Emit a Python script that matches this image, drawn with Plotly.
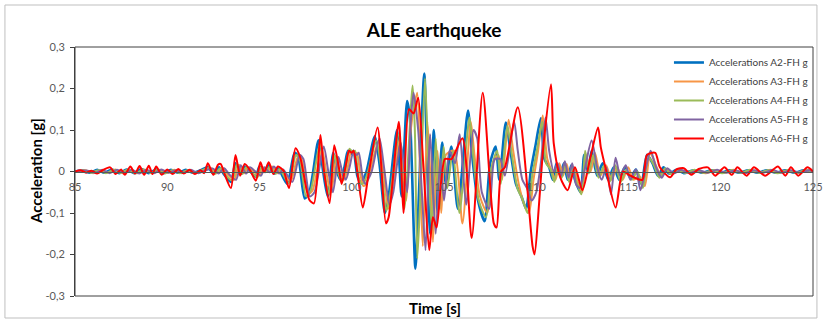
import plotly.graph_objects as go

# ---------------- data ----------------
series_names = ["Accelerations A2-FH g", "Accelerations A3-FH g", "Accelerations A4-FH g",
                "Accelerations A5-FH g", "Accelerations A6-FH g"]

t_a2 = [85.0, 85.4, 85.8, 86.2, 86.6, 87.0, 87.4, 87.8, 88.2, 88.6, 89.0, 89.4, 89.8, 90.2, 90.6, 91.0, 91.4, 91.8,
        92.2, 92.5, 92.8, 93.1, 93.45, 93.7, 94.0, 94.2, 94.5, 94.8, 95.0, 95.25, 95.5, 95.8, 96.0, 96.5, 96.9, 97.1, 97.45, 97.7,
        98.2, 98.45, 98.7, 99.0, 99.2, 99.4, 99.6, 99.8, 100.0, 100.1, 100.3, 100.45, 100.6, 100.8, 101.25, 101.5, 101.8, 102.0, 102.45, 102.7,
        103.0, 103.15, 103.45, 103.6, 103.93, 104.1, 104.25, 104.45, 104.65, 104.9, 105.1, 105.4, 105.75, 106.3, 106.5, 106.8, 107.2, 107.5, 107.8, 108.0,
        108.35, 108.6, 108.9, 109.2, 109.45, 109.7, 109.95, 110.25, 110.45, 110.7, 110.9, 111.1, 111.3, 111.5, 111.7, 111.9, 112.1, 112.4, 112.6, 112.8,
        113.0, 113.3, 113.6, 113.9, 114.2, 114.5, 114.8, 115.1, 115.4, 115.7, 116.0, 116.3, 116.6, 116.9, 117.2, 117.6, 118.0, 118.5, 119.0, 119.5,
        120.0, 120.5, 121.0, 121.5, 122.0, 122.5, 123.0, 123.5, 124.0, 124.5, 125.0]
v_a2 = [0.0, 0.003, -0.003, 0.004, -0.003, 0.005, -0.004, 0.005, -0.004, 0.006, -0.004, 0.005, -0.004, 0.004, -0.003, 0.004, -0.003, 0.003,
        0.01, -0.005, 0.01, -0.008, -0.025, 0.02, -0.005, 0.012, 0.0, -0.012, 0.012, 0.0, 0.015, -0.005, 0.008, -0.03, 0.045, 0.035, -0.065, -0.05,
        0.075, 0.0, -0.06, 0.045, 0.0, -0.02, 0.01, 0.05, 0.042, 0.05, -0.01, -0.025, -0.02, 0.0, 0.085, 0.02, -0.1, -0.06, 0.1, -0.06,
        0.17, 0.13, -0.234, -0.1, 0.236, 0.0, -0.15, 0.1, -0.1, 0.07, -0.03, 0.06, -0.09, 0.147, 0.05, -0.06, -0.12, 0.02, 0.06, -0.02,
        0.118, 0.05, -0.03, -0.06, -0.09, 0.0, 0.06, 0.128, 0.03, 0.01, -0.02, 0.02, -0.01, 0.02, -0.02, 0.015, -0.02, -0.05, 0.04, 0.0,
        0.05, -0.01, 0.02, -0.02, 0.01, -0.02, 0.01, -0.015, 0.005, -0.03, 0.04, 0.02, -0.01, 0.01, -0.005, 0.004, -0.004, 0.003, -0.003, 0.003,
        -0.003, 0.003, -0.003, 0.003, -0.003, 0.003, -0.003, 0.003, -0.003, 0.003, 0.0]

t_a3 = [85.0, 85.58, 85.98, 86.38, 86.78, 87.18, 87.58, 87.98, 88.38, 88.78, 89.18, 89.58, 89.98, 90.38, 90.78, 91.18, 91.58, 91.98,
        92.38, 92.68, 92.98, 93.28, 93.63, 93.88, 94.18, 94.38, 94.68, 94.98, 95.18, 95.43, 95.68, 95.98, 96.18, 96.68, 97.08, 97.28, 97.63, 97.88,
        98.38, 98.63, 98.88, 99.18, 99.38, 99.58, 99.78, 99.98, 100.18, 100.28, 100.48, 100.63, 100.78, 100.98, 101.43, 101.68, 101.98, 102.18, 102.6, 102.95,
        103.2, 103.35, 103.55, 103.7, 103.85, 104.1, 104.25, 104.4, 104.65, 104.85, 105.1, 105.55, 106.0, 106.45, 106.65, 106.95, 107.35, 107.65, 107.95, 108.15,
        108.5, 108.75, 109.05, 109.35, 109.6, 109.85, 110.1, 110.35, 110.6, 110.85, 111.05, 111.25, 111.45, 111.65, 111.85, 112.05, 112.25, 112.5, 112.7, 112.95,
        113.18, 113.48, 113.78, 114.08, 114.38, 114.68, 114.98, 115.28, 115.58, 115.88, 116.18, 116.48, 116.78, 117.08, 117.38, 117.78, 118.18, 118.68, 119.18, 119.68,
        120.18, 120.68, 121.18, 121.68, 122.18, 122.68, 123.18, 123.68, 124.18, 124.68, 125.0]
v_a3 = [0.0, 0.003, -0.004, 0.003, -0.003, 0.005, -0.004, 0.004, -0.004, 0.005, -0.005, 0.004, -0.003, 0.004, -0.004, 0.003, -0.003, 0.004,
        0.008, -0.004, 0.009, -0.008, -0.02, 0.016, -0.004, 0.01, 0.0, -0.01, 0.01, 0.0, 0.012, -0.004, 0.006, -0.025, 0.035, 0.03, -0.055, -0.045,
        0.055, -0.005, -0.05, 0.035, -0.005, -0.02, 0.01, 0.05, 0.04, 0.045, -0.01, -0.035, -0.03, 0.0, 0.07, 0.01, -0.09, -0.05, 0.08, -0.07,
        0.1, 0.15, 0.19, 0.0, -0.18, 0.12, 0.0, -0.17, 0.05, -0.1, 0.04, 0.05, -0.125, 0.12, 0.04, -0.06, -0.1, 0.02, 0.04, -0.02,
        0.125, 0.05, -0.03, -0.08, -0.1, -0.02, 0.05, 0.135, 0.03, 0.0, -0.02, 0.02, -0.01, 0.018, -0.02, 0.01, -0.025, -0.05, 0.04, 0.0,
        0.045, -0.01, 0.015, -0.02, 0.01, -0.02, 0.01, -0.02, -0.01, -0.035, 0.045, 0.015, -0.01, 0.006, -0.005, 0.004, -0.003, 0.003, -0.004, 0.003,
        -0.003, 0.004, -0.003, 0.003, -0.003, 0.004, -0.003, 0.003, -0.004, 0.003, 0.0]

t_a4 = [85.0, 85.48, 85.88, 86.28, 86.68, 87.08, 87.48, 87.88, 88.28, 88.68, 89.08, 89.48, 89.88, 90.28, 90.68, 91.08, 91.48, 91.88,
        92.28, 92.58, 92.88, 93.18, 93.53, 93.78, 94.08, 94.28, 94.58, 94.88, 95.08, 95.33, 95.58, 95.88, 96.08, 96.58, 96.98, 97.18, 97.53, 97.78,
        98.28, 98.53, 98.78, 99.08, 99.28, 99.48, 99.68, 99.88, 100.08, 100.18, 100.38, 100.53, 100.68, 100.88, 101.33, 101.58, 101.88, 102.08, 102.55, 102.85,
        103.3, 103.42, 103.55, 103.7, 103.97, 104.15, 104.35, 104.55, 104.75, 104.98, 105.18, 105.48, 105.83, 106.38, 106.58, 106.88, 107.28, 107.58, 107.88, 108.08,
        108.43, 108.68, 108.98, 109.28, 109.53, 109.78, 110.03, 110.33, 110.53, 110.78, 110.98, 111.18, 111.38, 111.58, 111.78, 111.98, 112.18, 112.45, 112.65, 112.85,
        113.08, 113.38, 113.68, 113.98, 114.28, 114.58, 114.88, 115.18, 115.48, 115.78, 116.08, 116.38, 116.68, 116.98, 117.28, 117.68, 118.08, 118.58, 119.08, 119.58,
        120.08, 120.58, 121.08, 121.58, 122.08, 122.58, 123.08, 123.58, 124.08, 124.58, 125.0]
v_a4 = [0.0, 0.002, -0.003, 0.003, -0.004, 0.004, -0.003, 0.005, -0.005, 0.005, -0.003, 0.004, -0.005, 0.003, -0.004, 0.003, -0.004, 0.003,
        0.008, -0.006, 0.008, -0.01, -0.022, 0.018, -0.006, 0.01, -0.002, -0.014, 0.01, -0.002, 0.013, -0.006, 0.006, -0.028, 0.04, 0.03, -0.06, -0.045,
        0.068, -0.005, -0.055, 0.04, -0.005, -0.025, 0.01, 0.055, 0.045, 0.05, -0.015, -0.03, -0.025, 0.0, 0.075, 0.015, -0.095, -0.055, 0.09, -0.09,
        0.207, 0.1, -0.21, -0.08, 0.225, 0.02, -0.14, 0.08, -0.09, 0.06, -0.04, 0.05, -0.1, 0.13, 0.04, -0.07, -0.11, 0.01, 0.05, -0.03,
        0.11, 0.04, -0.04, -0.07, -0.1, -0.01, 0.05, 0.12, 0.02, 0.005, -0.025, 0.015, -0.015, 0.015, -0.025, 0.01, -0.025, -0.055, 0.05, -0.005,
        0.04, -0.015, 0.015, -0.025, 0.015, -0.025, 0.005, -0.02, 0.0, -0.04, 0.035, 0.015, -0.015, 0.008, -0.006, 0.003, -0.003, 0.004, -0.003, 0.003,
        -0.004, 0.003, -0.003, 0.004, -0.003, 0.003, -0.004, 0.003, -0.003, 0.003, 0.0]

t_a5 = [85.0, 85.68, 86.08, 86.48, 86.88, 87.28, 87.68, 88.08, 88.48, 88.88, 89.28, 89.68, 90.08, 90.48, 90.88, 91.28, 91.68, 92.08,
        92.48, 92.78, 93.08, 93.38, 93.73, 93.98, 94.28, 94.48, 94.78, 95.08, 95.28, 95.53, 95.78, 96.08, 96.28, 96.78, 97.18, 97.38, 97.73, 97.98,
        98.48, 98.73, 98.98, 99.28, 99.48, 99.68, 99.88, 100.08, 100.28, 100.38, 100.58, 100.73, 100.88, 101.08, 101.5, 101.75, 102.05, 102.25, 102.65, 103.0,
        103.2, 103.35, 103.6, 103.8, 104.0, 104.25, 104.55, 104.8, 105.0, 105.3, 105.6, 105.85, 106.2, 106.6, 106.8, 107.05, 107.45, 107.75, 108.05, 108.3,
        108.8, 109.0, 109.25, 109.5, 109.75, 110.0, 110.25, 110.5, 110.7, 110.95, 111.15, 111.35, 111.55, 111.75, 111.95, 112.15, 112.35, 112.6, 113.0, 113.3,
        113.55, 113.8, 114.05, 114.3, 114.55, 114.85, 115.1, 115.4, 115.65, 115.95, 116.2, 116.5, 116.8, 117.1, 117.45, 117.85, 118.3, 118.8, 119.3, 119.8,
        120.3, 120.8, 121.3, 121.8, 122.3, 122.8, 123.3, 123.8, 124.3, 124.8, 125.0]
v_a5 = [0.0, 0.002, -0.003, 0.004, -0.004, 0.004, -0.003, 0.004, -0.005, 0.004, -0.004, 0.005, -0.003, 0.003, -0.003, 0.004, -0.004, 0.003,
        0.007, -0.005, 0.008, -0.008, -0.02, 0.015, -0.005, 0.01, 0.0, -0.01, 0.01, -0.002, 0.012, -0.005, 0.005, -0.025, 0.04, 0.03, -0.06, -0.05,
        0.06, 0.0, -0.05, 0.035, 0.0, -0.02, 0.01, 0.045, 0.04, 0.045, -0.01, -0.03, -0.02, 0.0, 0.08, 0.01, -0.08, -0.05, 0.07, -0.05,
        0.12, 0.19, 0.1, -0.05, -0.19, 0.09, -0.15, 0.03, -0.07, 0.05, 0.02, 0.09, -0.08, 0.1, 0.08, -0.05, -0.09, 0.03, 0.03, -0.01,
        0.12, 0.05, -0.02, -0.04, -0.07, -0.05, 0.02, 0.13, 0.05, 0.0, 0.02, -0.01, 0.025, -0.015, 0.02, -0.03, -0.04, 0.0, 0.075, 0.01,
        -0.02, 0.01, -0.055, 0.033, -0.01, 0.015, -0.02, 0.005, -0.045, 0.01, 0.05, 0.01, -0.015, 0.008, -0.005, 0.004, -0.004, 0.003, -0.003, 0.004,
        -0.003, 0.003, -0.004, 0.003, -0.003, 0.004, -0.003, 0.003, -0.003, 0.003, 0.0]

t_a6 = [85.0, 85.3, 85.6, 85.9, 86.2, 86.5, 86.9, 87.2, 87.5, 87.7, 88.0, 88.25, 88.5, 88.75, 89.0, 89.2, 89.4, 89.7, 90.0, 90.3,
        90.6, 90.9, 91.2, 91.5, 91.8, 92.0, 92.2, 92.5, 92.75, 92.9, 93.1, 93.45, 93.7, 93.95, 94.2, 94.5, 94.8, 95.05, 95.25, 95.5,
        95.75, 96.0, 96.3, 96.6, 96.95, 97.2, 97.7, 97.95, 98.3, 98.5, 98.8, 99.05, 99.3, 99.45, 99.7, 99.85, 100.0, 100.1, 100.3, 100.6,
        100.9, 101.4, 101.85, 102.0, 102.55, 102.8, 103.1, 103.35, 103.6, 103.9, 104.2, 104.4, 104.6, 105.05, 105.4, 106.0, 106.5, 107.1, 107.7, 107.85,
        108.1, 108.3, 109.0, 109.8, 109.9, 110.4, 110.8, 110.95, 111.3, 111.7, 112.1, 112.5, 112.9, 113.35, 113.5, 113.8, 114.3, 114.7, 115.1, 115.75,
        116.0, 116.45, 116.7, 117.25, 117.6, 118.0, 118.4, 118.8, 119.3, 119.7, 120.2, 120.6, 120.9, 121.4, 121.8, 122.4, 123.1, 123.5, 123.8, 124.2,
        124.7, 125.0]
v_a6 = [0.0, 0.003, -0.003, 0.002, -0.005, 0.003, 0.01, -0.006, 0.005, -0.008, 0.012, -0.005, 0.013, -0.008, 0.014, -0.006, 0.012, -0.008, 0.005, -0.006,
        0.006, -0.005, 0.004, -0.006, 0.003, -0.004, 0.02, -0.008, 0.016, 0.018, -0.005, -0.04, 0.04, -0.01, 0.018, 0.002, -0.022, 0.022, -0.002, 0.022,
        -0.006, 0.012, 0.002, -0.04, 0.056, 0.035, -0.068, -0.077, 0.088, 0.0, -0.076, 0.063, 0.01, -0.03, 0.02, 0.05, 0.045, 0.05, 0.0, -0.087,
        -0.01, 0.106, -0.125, -0.11, 0.12, -0.1, 0.15, 0.14, 0.178, 0.0, -0.19, -0.11, -0.135, 0.03, 0.03, 0.08, -0.16, 0.19, -0.125, -0.135,
        0.0, 0.01, 0.155, -0.18, -0.2, 0.067, 0.21, 0.067, -0.014, -0.045, 0.01, -0.045, 0.027, 0.106, 0.058, 0.0, -0.087, 0.0, -0.01, -0.02,
        0.04, 0.045, 0.01, -0.014, 0.005, 0.008, -0.008, 0.006, 0.01, -0.01, 0.01, -0.008, 0.01, -0.01, 0.01, -0.01, 0.012, -0.01, 0.01, -0.01,
        0.01, 0.0]

x_ticks = [85, 90, 95, 100, 105, 110, 115, 120, 125]
x_tick_labels = ["85", "90", "95", "100", "105", "110", "115", "120", "125"]
y_ticks = [-0.3, -0.2, -0.1, 0, 0.1, 0.2, 0.3]
y_tick_labels = ["-0,3", "-0,2", "-0,1", "0", "0,1", "0,2", "0,3"]

# ---------------- styling ----------------
colors = ["#0070C0", "#F79646", "#9BBB59", "#8064A2", "#FF0000"]
widths = [2.6, 2.0, 2.0, 2.0, 2.0]
FONT = "Lato, 'Open Sans', sans-serif"

all_t = [t_a2, t_a3, t_a4, t_a5, t_a6]
all_v = [v_a2, v_a3, v_a4, v_a5, v_a6]
for tt, vv in zip(all_t, all_v):
    assert len(tt) == len(vv), (len(tt), len(vv))

fig = go.Figure()
for name, tt, vv, c, w in zip(series_names, all_t, all_v, colors, widths):
    fig.add_trace(go.Scatter(x=tt, y=vv, mode="lines", name=name,
                             line=dict(color=c, width=w, shape="spline", smoothing=0.7)))

W, H = 829, 324
L, R, T, B = 75, 6, 47, 28
pw, ph = W - L - R, H - T - B

def px_x(p):
    return (p - L) / pw

def px_y(p):
    return (H - B - p) / ph

fig.update_layout(
    width=W, height=H,
    margin=dict(l=L, r=R, t=T, b=B),
    paper_bgcolor="white", plot_bgcolor="white",
    font=dict(family=FONT, color="#595959", size=11),
    title=dict(text="<b>ALE earthqueke</b>", x=px_x(439), xref="paper", xanchor="center",
               y=1 - 30 / H, yref="container", yanchor="middle",
               font=dict(family=FONT, size=19, color="#000000")),
    showlegend=True,
    legend=dict(x=px_x(677), y=px_y(48), xanchor="left", yanchor="top",
                bgcolor="rgba(0,0,0,0)", font=dict(family=FONT, size=10, color="#404040"),
                itemwidth=30, tracegroupgap=0),
    xaxis=dict(range=[85, 125], tickvals=x_ticks, ticktext=x_tick_labels,
               anchor="free", position=0.5, showline=True, linecolor="#595959", linewidth=1,
               showgrid=False, zeroline=False, ticks="", ticklabeloverflow="allow",
               ticklabelstandoff=5,
               tickfont=dict(size=11, color="#595959")),
    yaxis=dict(range=[-0.3, 0.3], tickvals=y_ticks, ticktext=y_tick_labels,
               showline=True, linecolor="#404040", linewidth=1, ticks="outside", ticklen=4,
               tickcolor="#404040", showgrid=False, zeroline=False, ticklabelstandoff=3,
               tickfont=dict(size=11, color="#595959")),
    shapes=[
        dict(type="rect", xref="paper", yref="paper", x0=0, x1=1, y0=0, y1=1,
             line=dict(color="#404040", width=1)),
        dict(type="rect", xref="paper", yref="paper", x0=px_x(4), x1=px_x(827), y0=px_y(318), y1=px_y(5),
             line=dict(color="#BFBFBF", width=1)),
    ],
    annotations=[
        dict(text="<b>Acceleration [g]</b>", xref="paper", yref="paper", x=px_x(35), y=0.5,
             textangle=-90, showarrow=False, font=dict(family=FONT, size=15, color="#000000"),
             xanchor="center", yanchor="middle"),
        dict(text="<b>Time [s]</b>", xref="paper", yref="paper", x=px_x(440), y=px_y(308),
             showarrow=False, font=dict(family=FONT, size=15, color="#000000"),
             xanchor="center", yanchor="middle"),
    ],
)

fig.write_html("out.html", config={"displayModeBar": False},
               post_script="document.body.style.margin='0';document.body.style.overflow='hidden';")
